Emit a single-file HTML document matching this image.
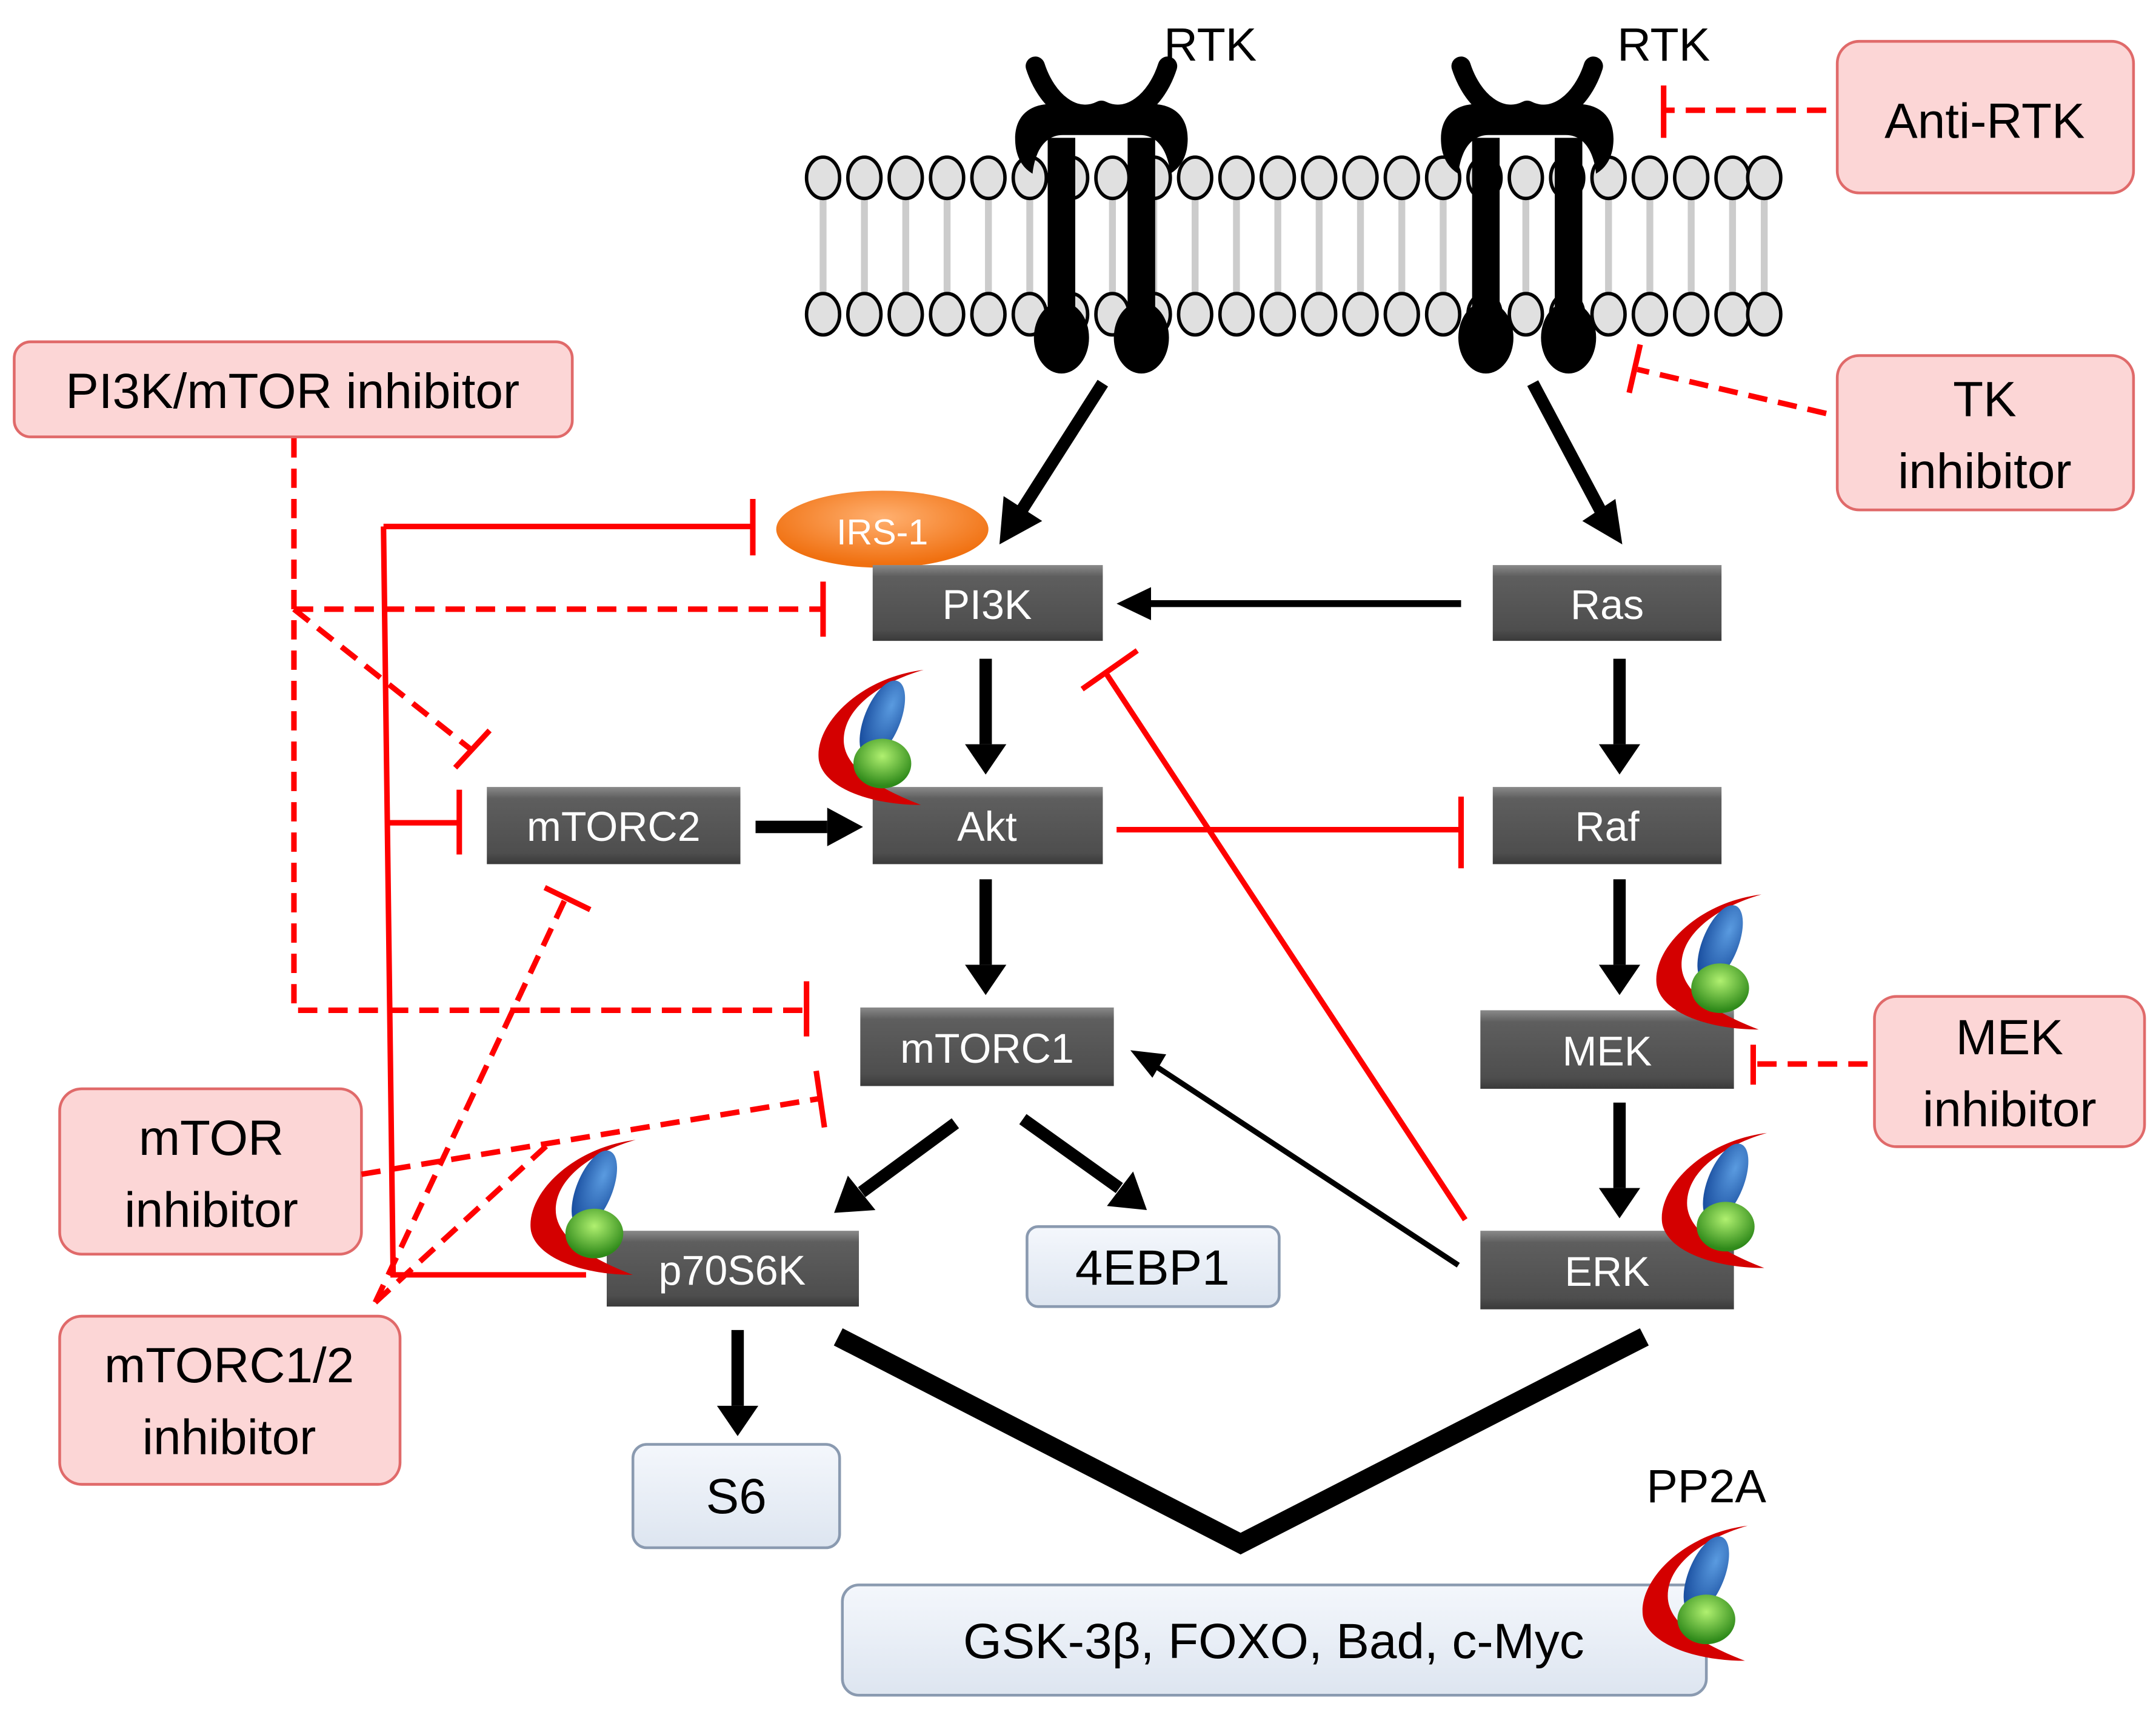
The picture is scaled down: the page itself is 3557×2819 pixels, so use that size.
<!DOCTYPE html>
<html><head><meta charset="utf-8"><style>html,body{margin:0;padding:0;background:#fff}svg{display:block}</style></head>
<body>
<svg xmlns="http://www.w3.org/2000/svg" width="3557" height="2819" viewBox="0 0 1564 1240" font-family="Liberation Sans, sans-serif">
<defs>
<linearGradient id="dk" x1="0" y1="0" x2="0" y2="1"><stop offset="0" stop-color="#8a8a8a"/><stop offset="0.15" stop-color="#5e5e5e"/><stop offset="0.85" stop-color="#4e4e4e"/><stop offset="1" stop-color="#3a3a3a"/></linearGradient>
<linearGradient id="lt" x1="0" y1="0" x2="0" y2="1"><stop offset="0" stop-color="#f4f7fc"/><stop offset="1" stop-color="#dde5f0"/></linearGradient>
<radialGradient id="or" cx="0.5" cy="0.35" r="0.6"><stop offset="0" stop-color="#ffb070"/><stop offset="1" stop-color="#f07010"/></radialGradient>
<radialGradient id="bl" cx="0.6" cy="0.3" r="0.7"><stop offset="0" stop-color="#5a9be0"/><stop offset="1" stop-color="#1a4fa0"/></radialGradient>
<radialGradient id="gr" cx="0.5" cy="0.35" r="0.6"><stop offset="0" stop-color="#b0f070"/><stop offset="1" stop-color="#2f8a1a"/></radialGradient>
<g id="pp">
<path d="M38,-46 C-10,-40 -42,-5 -38,20 C-34,40 0,52 36,52 C5,40 -20,25 -20,5 C-20,-20 10,-38 38,-46 Z" fill="#d40000"/>
<ellipse cx="8" cy="-10" rx="13" ry="30" transform="rotate(22 8 -10)" fill="url(#bl)"/>
<ellipse cx="8" cy="22" rx="21" ry="18" fill="url(#gr)"/>
</g>
<g id="rc">
<rect x="-10" y="-40" width="20" height="140" fill="#000"/>
<ellipse cx="0" cy="105" rx="20" ry="26" fill="#000"/>
</g>
<g id="row" fill="#e0e0e0" stroke="#000" stroke-width="2.5">
<ellipse cx="597" cy="0" rx="12" ry="15"/><ellipse cx="627" cy="0" rx="12" ry="15"/><ellipse cx="657" cy="0" rx="12" ry="15"/><ellipse cx="687" cy="0" rx="12" ry="15"/><ellipse cx="717" cy="0" rx="12" ry="15"/><ellipse cx="747" cy="0" rx="12" ry="15"/><ellipse cx="777" cy="0" rx="12" ry="15"/><ellipse cx="807" cy="0" rx="12" ry="15"/><ellipse cx="837" cy="0" rx="12" ry="15"/><ellipse cx="867" cy="0" rx="12" ry="15"/><ellipse cx="897" cy="0" rx="12" ry="15"/><ellipse cx="927" cy="0" rx="12" ry="15"/><ellipse cx="957" cy="0" rx="12" ry="15"/><ellipse cx="987" cy="0" rx="12" ry="15"/><ellipse cx="1017" cy="0" rx="12" ry="15"/><ellipse cx="1047" cy="0" rx="12" ry="15"/><ellipse cx="1077" cy="0" rx="12" ry="15"/><ellipse cx="1107" cy="0" rx="12" ry="15"/><ellipse cx="1137" cy="0" rx="12" ry="15"/><ellipse cx="1167" cy="0" rx="12" ry="15"/><ellipse cx="1197" cy="0" rx="12" ry="15"/><ellipse cx="1227" cy="0" rx="12" ry="15"/><ellipse cx="1257" cy="0" rx="12" ry="15"/><ellipse cx="1280" cy="0" rx="12" ry="15"/>
</g>
<g id="cap" fill="#000">
<path d="M-62,30 C-66,5 -50,-5 -30,-2 L30,-2 C50,-5 66,5 62,30 C60,40 55,45 50,48 C48,30 40,20 28,20 L-28,20 C-40,20 -48,30 -50,48 C-55,45 -60,40 -62,30 Z"/>
<path d="M-48,-30 C-40,-5 -20,12 0,2 M48,-30 C40,-5 20,12 0,2" stroke="#000" stroke-width="14" fill="none" stroke-linecap="round"/>
</g>
</defs>

<!-- membrane -->
<g stroke="#ccc" stroke-width="5">
<path d="M597,140V215M627,140V215M657,140V215M687,140V215M717,140V215M747,140V215M777,140V215M807,140V215M837,140V215M867,140V215M897,140V215M927,140V215M957,140V215M987,140V215M1017,140V215M1047,140V215M1077,140V215M1107,140V215M1137,140V215M1167,140V215M1197,140V215M1227,140V215M1257,140V215M1280,140V215"/>
</g>
<use href="#row" transform="translate(0,129)"/>
<use href="#row" transform="translate(0,228)"/>
<!-- receptors -->
<use href="#rc" transform="translate(770,140)"/><use href="#rc" transform="translate(828,140)"/>
<use href="#cap" transform="translate(799,78)"/>
<use href="#rc" transform="translate(1078,140)"/><use href="#rc" transform="translate(1138,140)"/>
<use href="#cap" transform="translate(1108,78)"/>
<text x="878" y="44" font-size="34" text-anchor="middle">RTK</text>
<text x="1207" y="44" font-size="34" text-anchor="middle">RTK</text>

<!-- pink inhibitor boxes -->
<g fill="#fcd6d6" stroke="#e06a6a" stroke-width="2">
<rect x="1333" y="30" width="215" height="110" rx="16"/>
<rect x="1333" y="258" width="215" height="112" rx="16"/>
<rect x="1360" y="723" width="196" height="109" rx="16"/>
<rect x="10" y="248" width="405" height="69" rx="12"/>
<rect x="43" y="790" width="219" height="120" rx="16"/>
<rect x="43" y="955" width="247" height="122" rx="16"/>
</g>
<g font-size="36" text-anchor="middle" fill="#000">
<text x="1440" y="100">Anti-RTK</text>
<text x="1440" y="302">TK</text><text x="1440" y="354">inhibitor</text>
<text x="1458" y="765">MEK</text><text x="1458" y="817">inhibitor</text>
<text x="212" y="296">PI3K/mTOR inhibitor</text>
<text x="153" y="838">mTOR</text><text x="153" y="890">inhibitor</text>
<text x="166" y="1003">mTORC1/2</text><text x="166" y="1055">inhibitor</text>
</g>

<!-- red solid inhibitions -->
<g stroke="#f00" stroke-width="4" fill="none">
<path d="M278,382H546M546,362V403"/>
<path d="M278,382L285,925H425"/>
<path d="M281,597H333M333,573V620"/>
<path d="M810,602H1060M1060,578V630"/>
<path d="M1063,885L802,488M785,500L825,472"/>
</g>
<!-- red dashed -->
<g stroke="#f00" stroke-width="4" fill="none" stroke-dasharray="14,8">
<path d="M1325,80H1207"/>
<path d="M1325,300L1188,268"/>
<path d="M1355,772H1272"/>
<path d="M213,318V733H585"/>
<path d="M213,442H597"/>
<path d="M213,442L343,545"/>
<path d="M262,852L595,797"/>
<path d="M272,945L410,652"/>
<path d="M272,945L400,828"/>
</g>
<g stroke="#f00" stroke-width="4" fill="none">
<path d="M1207,62V100M1190,250L1182,285M1272,758V787M597,422V462M585,712V752M330,557L355,530M592,777L598,818M395,644L428,660"/>
</g>

<!-- black arrows -->
<g stroke="#000" stroke-width="9" fill="none">
<path d="M800,278L740,372"/>
<path d="M1112,278L1162,372"/>
<path d="M715,478V540M1175,478V540M548,600H600M715,638V700M1175,638V700M1175,800V862M693,815L625,865M742,812L812,862M535,965V1020"/>
</g>
<g fill="#000">
<polygon points="725,395 728,360 756,378"/>
<polygon points="1177,395 1148,378 1172,362"/>
<polygon points="700,540 730,540 715,562"/>
<polygon points="1160,540 1190,540 1175,562"/>
<polygon points="600,586 600,614 626,600"/>
<polygon points="700,700 730,700 715,722"/>
<polygon points="1160,700 1190,700 1175,722"/>
<polygon points="1160,862 1190,862 1175,884"/>
<polygon points="605,880 615,853 635,878"/>
<polygon points="832,878 803,875 822,850"/>
<polygon points="520,1020 550,1020 535,1042"/>
<polygon points="810,438 835,426 835,450"/>
<polygon points="820,762 846,765 836,782"/>
</g>
<path d="M1060,438H830" stroke="#000" stroke-width="5"/>
<path d="M1058,918L836,772" stroke="#000" stroke-width="4"/>
<path d="M608,970L900,1120L1193,970" stroke="#000" stroke-width="14" fill="none"/>

<!-- IRS-1 -->
<ellipse cx="640" cy="384" rx="77" ry="28" fill="url(#or)"/>
<text x="640" y="395" font-size="26" fill="#fff" text-anchor="middle">IRS-1</text>

<!-- dark boxes -->
<g fill="url(#dk)">
<rect x="633" y="410" width="167" height="55"/>
<rect x="1083" y="410" width="166" height="55"/>
<rect x="353" y="571" width="184" height="56"/>
<rect x="633" y="571" width="167" height="56"/>
<rect x="1083" y="571" width="166" height="56"/>
<rect x="624" y="731" width="184" height="57"/>
<rect x="1074" y="733" width="184" height="57"/>
<rect x="440" y="893" width="183" height="55"/>
<rect x="1074" y="893" width="184" height="57"/>
</g>
<g font-size="30" fill="#fff" text-anchor="middle">
<text x="716" y="449">PI3K</text>
<text x="1166" y="449">Ras</text>
<text x="445" y="610">mTORC2</text>
<text x="716" y="610">Akt</text>
<text x="1166" y="610">Raf</text>
<text x="716" y="771">mTORC1</text>
<text x="1166" y="773">MEK</text>
<text x="531" y="932">p70S6K</text>
<text x="1166" y="933">ERK</text>
</g>

<!-- light boxes -->
<g fill="url(#lt)" stroke="#8a9ab0" stroke-width="2">
<rect x="745" y="890" width="183" height="58" rx="8"/>
<rect x="459" y="1048" width="150" height="75" rx="10"/>
<rect x="611" y="1150" width="627" height="80" rx="12"/>
</g>
<g font-size="36" text-anchor="middle" fill="#000">
<text x="836" y="932">4EBP1</text>
<text x="534" y="1098">S6</text>
<text x="924" y="1203">GSK-3β, FOXO, Bad, c-Myc</text>
</g>

<!-- PP2A icons -->
<use href="#pp" transform="translate(632,532)"/>
<use href="#pp" transform="translate(1240,695)"/>
<use href="#pp" transform="translate(1244,868)"/>
<use href="#pp" transform="translate(423,873)"/>
<use href="#pp" transform="translate(1230,1153)"/>
<text x="1238" y="1090" font-size="34" text-anchor="middle">PP2A</text>
</svg>
</body></html>
